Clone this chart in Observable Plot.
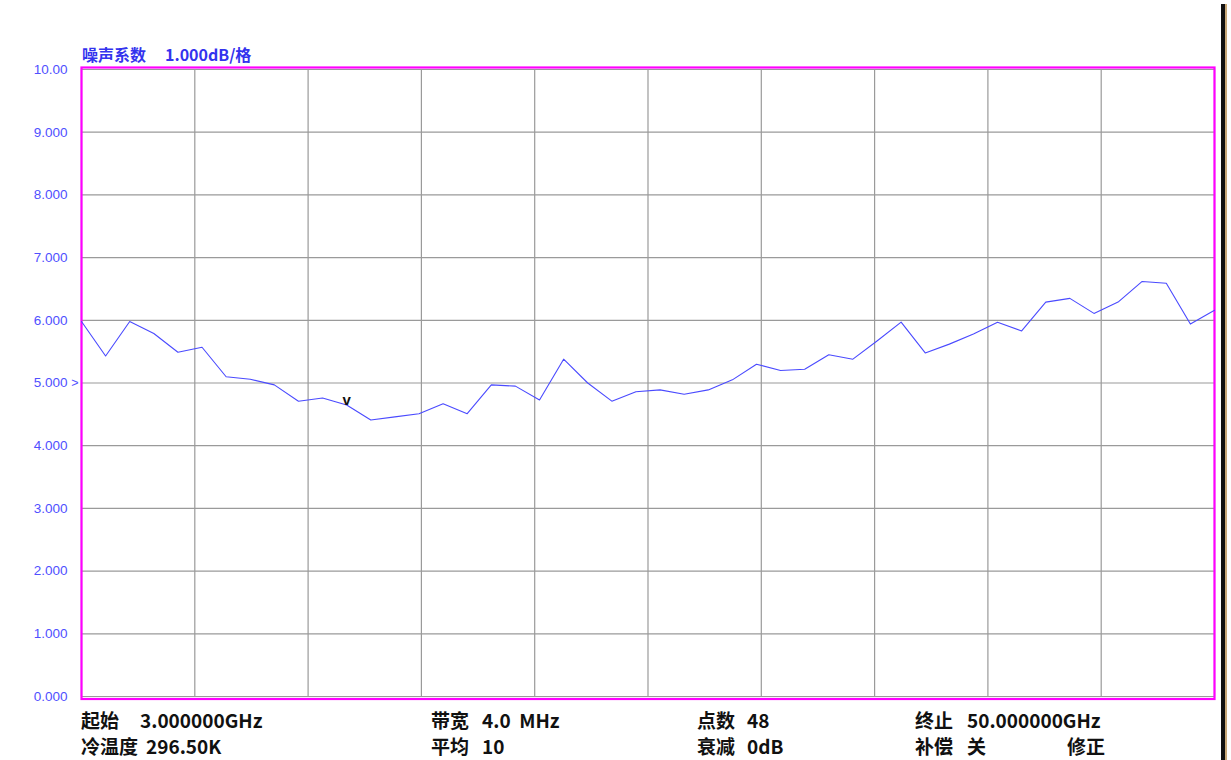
<!DOCTYPE html>
<html>
<head>
<meta charset="utf-8">
<script src="https://cdn.jsdelivr.net/npm/d3@7"></script>
<script src="https://cdn.jsdelivr.net/npm/@observablehq/plot@0.6"></script>
<style>
  html, body { margin: 0; padding: 0; background: #fff; }
  #wrap { position: relative; width: 1231px; height: 760px; overflow: hidden; }
  #chart { position: absolute; left: 0; top: 0; }
  .t { position: absolute; white-space: pre; font-family: "Noto Sans CJK SC", "Noto Sans", sans-serif; line-height: 1; }
  .title { color: #3333ee; font-weight: bold; font-size: 16px; }
  .foot { color: #111; font-weight: bold; font-size: 19px; }
  #edge { position: absolute; left: 1221px; top: 4px; width: 4px; height: 756px; background: #111; border-right: 2px solid #c8a878; }
</style>
</head>
<body>
<div id="wrap">
  <div id="chart"></div>
  <div id="edge"></div>
</div>
<script>
// ---- data ----
const startGHz = 3;
const stopGHz = 50;
const pointCount = 48;
const noiseFigure = [
  5.98, 5.43, 5.98, 5.79, 5.49, 5.57, 5.10, 5.06, 4.97, 4.71,
  4.76, 4.65, 4.41, 4.46, 4.51, 4.67, 4.51, 4.97, 4.95, 4.73,
  5.38, 5.00, 4.71, 4.86, 4.89, 4.82, 4.89, 5.05, 5.30, 5.20,
  5.22, 5.45, 5.38, 5.67, 5.97, 5.48, 5.62, 5.78, 5.97, 5.83,
  6.29, 6.35, 6.11, 6.29, 6.62, 6.59, 5.94, 6.16
];
const yTicks = [0, 1, 2, 3, 4, 5, 6, 7, 8, 9, 10];
const yTickLabels = ["0.000", "1.000", "2.000", "3.000", "4.000", "5.000", "6.000", "7.000", "8.000", "9.000", "10.00"];
const xDivisions = 10;
const markerIndex = 11;
const refLevel = 5;
const titleLabel = "噪声系数";
const titleScale = "1.000dB/格";
const footerLabels = [
  ["起始", "3.000000GHz"], ["冷温度", "296.50K"],
  ["带宽", "4.0  MHz"], ["平均", "10"],
  ["点数", "48"], ["衰减", "0dB"],
  ["终止", "50.000000GHz"], ["补偿", "关"], ["修正", ""]
];

// ---- derived table ----
const step = (stopGHz - startGHz) / (pointCount - 1);
const data = noiseFigure.map((v, i) => ({ f: startGHz + i * step, nf: v }));
const xGrid = d3.range(xDivisions + 1).map(k => startGHz + k * (stopGHz - startGHz) / xDivisions);

const plot = Plot.plot({
  width: 1231,
  height: 760,
  marginLeft: 81,
  marginRight: 17,
  marginTop: 69,
  marginBottom: 64,
  x: { domain: [startGHz, stopGHz], axis: null },
  y: { domain: [0, 10], axis: null },
  style: { fontFamily: "Liberation Sans, Arial, sans-serif", background: "#fff" },
  marks: [
    Plot.ruleX(xGrid, { stroke: "#9a9a9a", strokeWidth: 1.2 }),
    Plot.ruleY(yTicks, { stroke: "#9a9a9a", strokeWidth: 1.2 }),
    Plot.frame({ stroke: "#ff00ff", strokeWidth: 2.2, insetTop: -2, insetBottom: -2.5, insetLeft: 0, insetRight: 0 }),
    Plot.text(yTicks, {
      x: startGHz, y: d => d, text: (d, i) => yTickLabels[i],
      textAnchor: "end", dx: -14, fill: "#5050ff", fontSize: 13.5
    }),
    Plot.text([refLevel], {
      x: startGHz, y: d => d, text: () => ">",
      textAnchor: "end", dx: -3, fill: "#5050ff", fontSize: 12.5
    }),
    Plot.line(data, { x: "f", y: "nf", stroke: "#4a4aff", strokeWidth: 1.1 }),
    Plot.text([data[markerIndex]], {
      x: "f", y: "nf", text: () => "v", dy: -5, fill: "#111", fontSize: 15, fontWeight: "bold"
    })
  ]
});
document.getElementById("chart").appendChild(plot);

// ---- overlay texts ----
const wrap = document.getElementById("wrap");
function addText(txt, left, top, cls) {
  const d = document.createElement("div");
  d.className = "t " + cls;
  d.textContent = txt;
  d.style.left = left + "px";
  d.style.top = top + "px";
  wrap.appendChild(d);
}
addText(titleLabel, 82, 46, "title");
addText(titleScale, 165, 46, "title");

const cols = [
  { lx: 81, vx: 140 }, { lx: 81, vx: 146 },
  { lx: 431, vx: 482 }, { lx: 431, vx: 482 },
  { lx: 697, vx: 747 }, { lx: 697, vx: 747 },
  { lx: 915, vx: 967 }, { lx: 915, vx: 967 }, { lx: 1067, vx: 1120 }
];
const rows = [710, 736, 710, 736, 710, 736, 710, 736, 736];
footerLabels.forEach(([lab, val], i) => {
  addText(lab, cols[i].lx, rows[i], "foot");
  if (val) addText(val, cols[i].vx, rows[i], "foot");
});
</script>
</body>
</html>
